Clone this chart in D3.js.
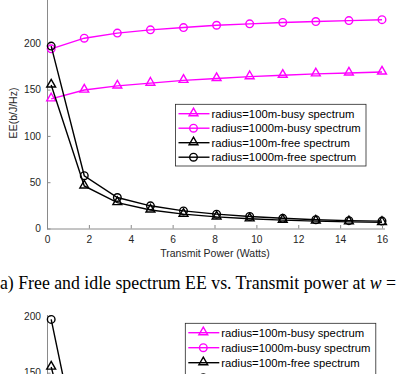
<!DOCTYPE html>
<meta charset="utf-8">
<style>
body { margin: 0; background: #fff; }
svg { display: block; }
.tick text { font: 10.2px "Liberation Sans", Arial, sans-serif; fill: #262626; }
.lbl { font: 10.5px "Liberation Sans", Arial, sans-serif; fill: #262626; }
.leg text { font: 11.3px "Liberation Sans", Arial, sans-serif; fill: #000; }
.cap { font: 17.8px "Liberation Serif", "Times New Roman", serif; fill: #000; }
</style>
<svg width="396" height="374"></svg>
<script src="https://cdn.jsdelivr.net/npm/d3@7"></script>
<script>
// transmit power (W)
var xPower = [0.2, 1.78, 3.36, 4.94, 6.52, 8.1, 9.68, 11.26, 12.84, 14.42, 16];
// EE values
var busy100  = [140, 149.5, 154, 157, 160, 162, 164, 165.5, 167, 168, 169];
var busy1000 = [194, 205.5, 211, 214.5, 217, 219.5, 221, 222.5, 223.5, 224.5, 225.5];
var free100  = [155, 46, 28, 20, 15.5, 12.5, 10.5, 9, 8, 7.2, 6.6];
var free1000 = [197, 57, 33.5, 24.5, 19, 15.5, 13, 11, 9.5, 8.5, 8];

var names = ["radius=100m-busy spectrum", "radius=1000m-busy spectrum",
             "radius=100m-free spectrum", "radius=1000m-free spectrum"];
var xTicks = [0, 2, 4, 6, 8, 10, 12, 14, 16];
var yTicksA = [0, 50, 100, 150, 200];
var yTicksB = [150, 200];

var series = [
  {name: names[0], vals: busy100,  color: "#ff00ff", mark: "tri"},
  {name: names[1], vals: busy1000, color: "#ff00ff", mark: "circ"},
  {name: names[2], vals: free100,  color: "#000",    mark: "tri"},
  {name: names[3], vals: free1000, color: "#000",    mark: "circ"}
];

var svg = d3.select("svg");
var axisCol = "#8a8a8a";

function drawMarker(g, type, color, x, y) {
  if (type == "circ") {
    g.append("circle").attr("cx", x).attr("cy", y).attr("r", 3.8)
      .attr("fill", "none").attr("stroke", color).attr("stroke-width", 1.4);
  } else {
    g.append("path")
      .attr("d", d3.symbol().type(d3.symbolTriangle).size(34)())
      .attr("transform", "translate(" + x + "," + (y - 0.5) + ")")
      .attr("fill", "none").attr("stroke", color).attr("stroke-width", 1.4);
  }
}

function legend(g, x0, y0, w, h, step) {
  g.append("rect").attr("x", x0).attr("y", y0).attr("width", w).attr("height", h)
    .attr("fill", "#fff").attr("stroke", "#262626").attr("stroke-width", 0.8);
  series.forEach(function(s, i) {
    var y = y0 + 9.4 + i * step;
    g.append("line").attr("x1", x0 + 3).attr("x2", x0 + 34).attr("y1", y).attr("y2", y)
      .attr("stroke", s.color).attr("stroke-width", 1.4);
    drawMarker(g, s.mark, s.color, x0 + 18, y);
    g.append("text").attr("x", x0 + 36).attr("y", y + 4).text(s.name);
  });
}

function chart(x, y, yTicks, list, clipId, clipRect) {
  var g = svg.append("g");
  g.append("clipPath").attr("id", clipId).append("rect")
    .attr("x", clipRect[0]).attr("y", clipRect[1])
    .attr("width", clipRect[2]).attr("height", clipRect[3]);

  var yAx = g.append("g").attr("transform", "translate(" + x.range()[0] + ",0)")
    .call(d3.axisLeft(y).tickValues(yTicks).tickSizeInner(-3.5).tickSizeOuter(0).tickPadding(6));
  yAx.select(".domain").attr("stroke", axisCol);
  yAx.selectAll(".tick line").attr("stroke", axisCol);

  var plot = g.append("g").attr("clip-path", "url(#" + clipId + ")");
  list.forEach(function(s) {
    var pts = xPower.map(function(v, i) { return [x(v), y(s.vals[i])]; });
    plot.append("path").attr("d", d3.line()(pts)).attr("fill", "none")
      .attr("stroke", s.color).attr("stroke-width", 1.4);
    pts.forEach(function(p) { drawMarker(plot, s.mark, s.color, p[0], p[1]); });
  });
  return g;
}

// ---- chart (a)
var xA = d3.scaleLinear().domain([0, 16]).range([47, 382]);
var yA = d3.scaleLinear().domain([0, 250]).range([228.5, -3]);
var gA = chart(xA, yA, yTicksA, series, "clipA", [0, -10, 396, 245]);

var xAx = gA.append("g").attr("transform", "translate(0," + yA(0) + ")")
  .call(d3.axisBottom(xA).tickValues(xTicks).tickSizeInner(-3.5).tickSizeOuter(0).tickPadding(7));
xAx.select(".domain").attr("stroke", axisCol).attr("d", "M47,0.5H385");
xAx.selectAll(".tick line").attr("stroke", axisCol);

gA.append("text").attr("class", "lbl").attr("x", 215).attr("y", 257)
  .attr("text-anchor", "middle").text("Transmit Power (Watts)");
gA.append("text").attr("class", "lbl")
  .attr("transform", "translate(17,113) rotate(-90)")
  .attr("text-anchor", "middle").text("EE(b/J/Hz)");

legend(gA.append("g").attr("class", "leg"), 175.5, 104.3, 190.5, 61.7, 14.5);

// caption
var cap = svg.append("text").attr("class", "cap").attr("x", -6).attr("y", 288.5);
cap.append("tspan").text("(a) Free and idle spectrum EE vs. Transmit power at ");
cap.append("tspan").attr("font-style", "italic").text("w");
cap.append("tspan").text(" =");

// ---- chart (b), only its top part is in view
var yB = d3.scaleLinear().domain([0, 200]).range([316 + 200 * 1.134, 316]);
var gB = chart(xA, yB, yTicksB, series.slice(2), "clipB", [40, 310, 356, 80]);
gB.select(".domain").attr("d", "M0.5,315V380");
legend(gB.append("g").attr("class", "leg"), 185.3, 323.3, 190.5, 62, 15);
</script>
